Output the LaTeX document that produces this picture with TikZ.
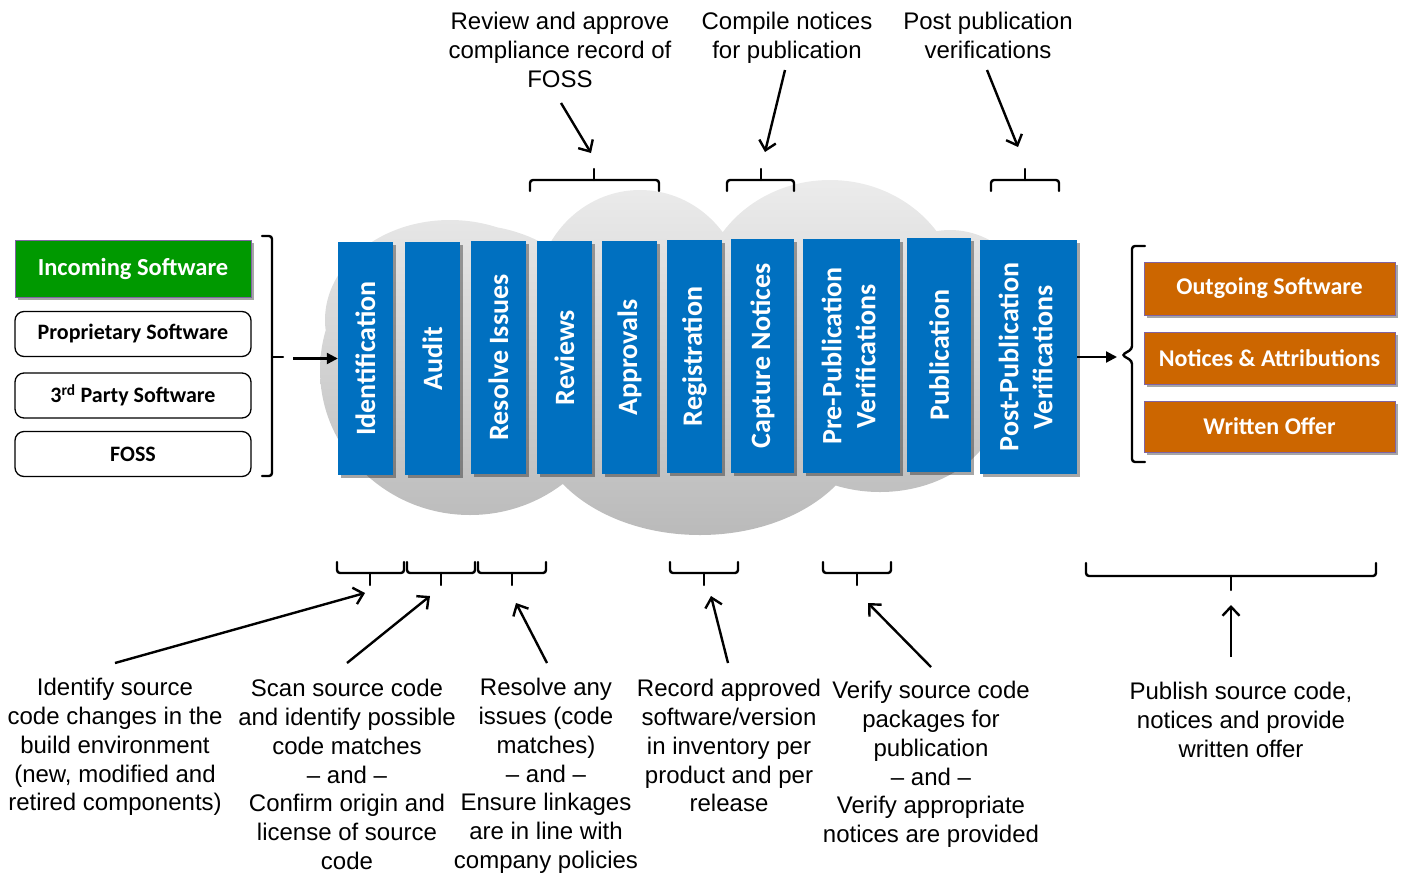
\documentclass[tikz,border=0pt]{standalone}
\usepackage{fontspec}
\usepackage{graphicx}
\setmainfont{Liberation Sans}
\newfontfamily\boxfont{Carlito}
\usetikzlibrary{arrows.meta,shadows}

\definecolor{stageblue}{HTML}{0070C0}
\definecolor{ingreen}{HTML}{009900}
\definecolor{outorange}{HTML}{CC6600}
\definecolor{boxrim}{HTML}{8064A2}
\definecolor{cloudtop}{HTML}{EDEDED}
\definecolor{cloudbot}{HTML}{B8B8B8}

\tikzset{
  softshadow/.style={drop shadow={shadow xshift=2.5pt,shadow yshift=-3pt,opacity=.35,fill=black}},
  stage/.style={fill=stageblue,draw=none,inner sep=0pt,text=white,
    font=\boxfont\bfseries\fontsize{28}{34}\selectfont,softshadow},
  inbox/.style={draw=black,line width=1.3pt,fill=white,rounded corners=9pt,
    minimum width=236pt,inner sep=0pt,font=\boxfont\bfseries\fontsize{22}{26}\selectfont},
  greenbox/.style={fill=ingreen,draw=boxrim,line width=0.8pt,text=white,
    minimum width=236pt,inner sep=0pt,font=\boxfont\bfseries\fontsize{24.5}{28}\selectfont,softshadow},
  outbox/.style={fill=outorange,draw=boxrim,line width=0.8pt,text=white,
    minimum width=251pt,inner sep=0pt,font=\boxfont\bfseries\fontsize{24}{28}\selectfont,softshadow},
  note/.style={align=center,inner sep=0pt,anchor=north,font=\fontsize{24}{28.8}\selectfont},
  brace/.style={draw=black,line width=2.4pt,rounded corners=3pt,line cap=round},
  pointer/.style={draw=black,line width=2.4pt,-{Straight Barb[length=9pt,width=17pt]}},
  flow/.style={draw=black,line width=2.2pt,-{Triangle[length=11pt,width=11pt]}}
}

\newcommand{\vtext}[1]{\rotatebox{90}{#1}}
\newcommand{\vtwo}[2]{\rotatebox{90}{\begin{tabular}{@{}c@{}}#1\\#2\end{tabular}}}

\begin{document}
\begin{tikzpicture}[x=1pt,y=-1pt]
\useasboundingbox (0,0) rectangle (1403,876);

% grey cloud behind the process stages
\begin{scope}
  \clip (470,370) ellipse [x radius=150, y radius=145]
        (450,320) ellipse [x radius=125, y radius=100]
        (640,300) ellipse [x radius=105, y radius=110]
        (830,300) ellipse [x radius=130, y radius=120]
        (700,420) ellipse [x radius=165, y radius=115]
        (880,400) ellipse [x radius=120, y radius=92]
        (950,330) ellipse [x radius=90, y radius=100];
  \shade[top color=cloudtop,bottom color=cloudbot] (300,170) rectangle (1100,550);
\end{scope}

% incoming software
\node[greenbox,minimum height=57pt] (inc) at (133,268.5) {Incoming Software};
\node[inbox,minimum height=45pt] (prop) at (133,334) {Proprietary Software};
\node[inbox,minimum height=45pt] (third) at (133,395.5) {3\textsuperscript{rd} Party Software};
\node[inbox,minimum height=45pt] (foss) at (133,454) {FOSS};

% process stages
\node[stage,minimum width=55pt,minimum height=233pt] (ident) at (365.5,358.5) {\vtext{Identification}};
\node[stage,minimum width=55pt,minimum height=233pt] (audit) at (432.5,358.5) {\vtext{Audit}};
\node[stage,minimum width=55pt,minimum height=233pt] (resolve) at (498.5,357.5) {\vtext{Resolve Issues}};
\node[stage,minimum width=55pt,minimum height=233pt] (reviews) at (564.5,357.5) {\vtext{Reviews}};
\node[stage,minimum width=55pt,minimum height=233pt] (approv) at (629.5,357.5) {\vtext{Approvals}};
\node[stage,minimum width=55pt,minimum height=233pt] (regist) at (694.5,356.5) {\vtext{Registration}};
\node[stage,minimum width=63pt,minimum height=234pt] (capture) at (762.5,356) {\vtext{Capture Notices}};
\node[stage,minimum width=97pt,minimum height=234pt] (prepub) at (851.5,356) {\vtwo{Pre-Publication}{Verifications}};
\node[stage,minimum width=64pt,minimum height=234pt] (publ) at (939,355) {\vtext{Publication}};
\node[stage,minimum width=97pt,minimum height=234pt] (postpub) at (1028.5,357) {\vtwo{Post-Publication}{Verifications}};

% outgoing deliverables
\node[outbox,minimum height=53pt] (outsw) at (1269.5,288.5) {Outgoing Software};
\node[outbox,minimum height=52pt] (notat) at (1269.5,358) {Notices \& Attributions};
\node[outbox,minimum height=51pt] (woffer) at (1269.5,426.5) {Written Offer};

% input and output brackets with flow arrows
\draw[brace] (262,236) -- (272,236) -- (272,476) -- (262,476);
\draw[brace,rounded corners=0pt] (272,357) -- (283,357);
\coordinate (inarrow) at (293,358.5);
\draw[flow] (inarrow) -- (ident.west);

\draw[brace] (1145,246) -- (1132,246) -- (1132,349) -- (1122,355) -- (1132,361) -- (1132,462) -- (1145,462);
\coordinate (outarrow) at (1117,357);
\draw[flow] (postpub.east) -- (outarrow);

% upper braces and their notes
\draw[brace] (530,191) -- (530,180) -- (659,180) -- (659,191);
\draw[brace,rounded corners=0pt] (594,180) -- (594,169);
\draw[brace] (727,191) -- (727,180) -- (794,180) -- (794,191);
\draw[brace,rounded corners=0pt] (761,180) -- (761,169);
\draw[brace] (991,191) -- (991,180) -- (1059,180) -- (1059,191);
\draw[brace,rounded corners=0pt] (1025,180) -- (1025,169);

\node[note] (nrev) at (560,12) {Review and approve\\compliance record of\\FOSS};
\node[note] (ncomp) at (787,12) {Compile notices\\for publication};
\node[note] (npost) at (988,12) {Post publication\\verifications};

\coordinate (p1s) at (561,103); \coordinate (p1e) at (591,153);
\coordinate (p2s) at (785,70);  \coordinate (p2e) at (765,152);
\coordinate (p3s) at (987,70);  \coordinate (p3e) at (1018,147);
\draw[pointer] (p1s) -- (p1e);
\draw[pointer] (p2s) -- (p2e);
\draw[pointer] (p3s) -- (p3e);

% lower braces and their notes
\foreach \a/\b/\m in {337/404/370, 407/475/441, 478/546/512, 670/738/704, 823/891/857}{
  \draw[brace] (\a,562) -- (\a,573) -- (\b,573) -- (\b,562);
  \draw[brace,rounded corners=0pt] (\m,573) -- (\m,585);
}
\draw[brace] (1086,563) -- (1086,576) -- (1376,576) -- (1376,563);
\draw[brace,rounded corners=0pt] (1231,576) -- (1231,590);

\node[note] (n1) at (115,678) {Identify source\\code changes in the\\build environment\\(new, modified and\\retired components)};
\node[note] (n2) at (347,679) {Scan source code\\and identify possible\\code matches\\– and –\\Confirm origin and\\license of source\\code};
\node[note] (n3) at (546,678) {Resolve any\\issues (code\\matches)\\– and –\\Ensure linkages\\are in line with\\company policies};
\node[note] (n4) at (729,679) {Record approved\\software/version\\in inventory per\\product and per\\release};
\node[note] (n5) at (931,681) {Verify source code\\packages for\\publication\\– and –\\Verify appropriate\\notices are provided};
\node[note] (n6) at (1241,682) {Publish source code,\\notices and provide\\written offer};

\coordinate (q1s) at (115,663);  \coordinate (q1e) at (365,593);
\coordinate (q2s) at (347,663);  \coordinate (q2e) at (430,596);
\coordinate (q3s) at (547,663);  \coordinate (q3e) at (516,603);
\coordinate (q4s) at (728,663);  \coordinate (q4e) at (711,596);
\coordinate (q5s) at (931,667);  \coordinate (q5e) at (868,603);
\coordinate (q6s) at (1231,657); \coordinate (q6e) at (1231,605);
\foreach \i in {1,...,6}{\draw[pointer] (q\i s) -- (q\i e);}

\end{tikzpicture}
\end{document}
